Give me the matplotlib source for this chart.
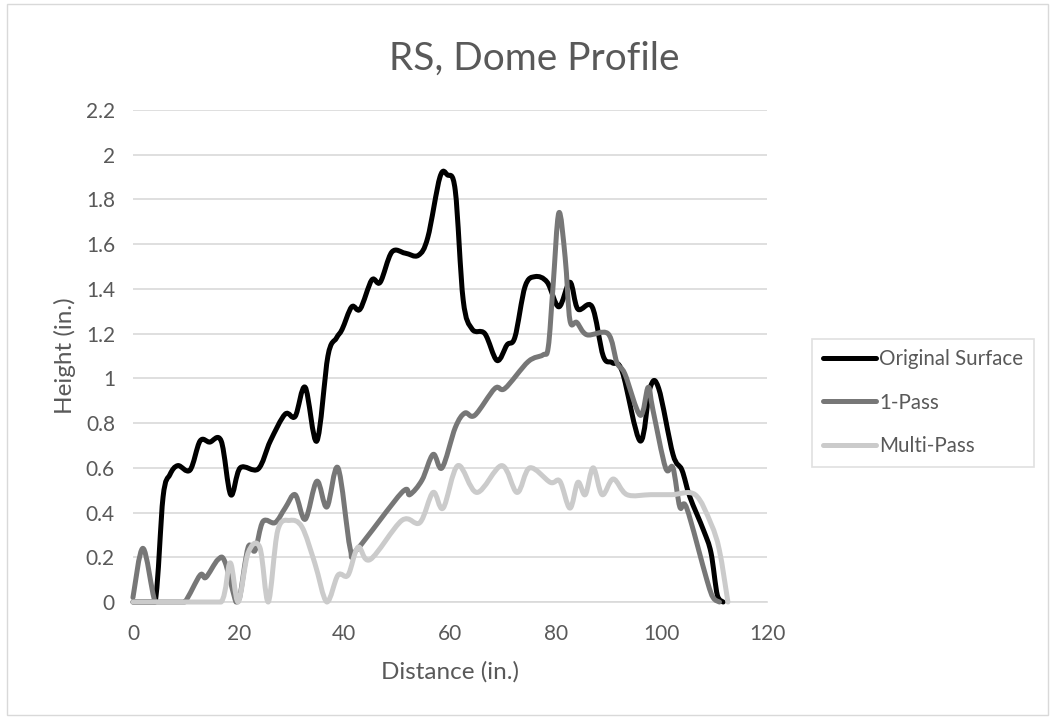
import matplotlib.pyplot as plt
from matplotlib.path import Path
from matplotlib.patches import PathPatch, Rectangle
from matplotlib.lines import Line2D
import numpy as np

# values (distance in., height in.)
orig_x = [0, 2, 4.2, 5.7, 7, 8.5, 10.8, 12.7, 14.5, 16.7, 18.5, 20.3, 23.7, 26, 28.8, 30.7,
          32.6, 34.8, 36.9, 38.5, 39.6, 41.4, 43, 45.2, 46.8, 49, 51.5, 54, 55.8, 58.1,
          59.5, 61, 62.5, 64.2, 66.6, 68.9, 70.8, 72.3, 74.2, 76.1, 78.4, 80.6, 82.7,
          84.2, 86.9, 89, 90.7, 92.6, 96, 97.9, 99.5, 102.2, 103.9, 105.4, 108, 109.4,
          110.6, 111.7]
orig_y = [0, 0, 0, 0.47, 0.57, 0.61, 0.59, 0.72, 0.715, 0.72, 0.48, 0.60, 0.595, 0.72, 0.84,
          0.83, 0.96, 0.72, 1.1, 1.18, 1.22, 1.32, 1.31, 1.44, 1.43, 1.565, 1.56, 1.55, 1.63,
          1.9, 1.91, 1.84, 1.35, 1.22, 1.20, 1.08, 1.15, 1.185, 1.41, 1.455, 1.43, 1.32,
          1.43, 1.31, 1.32, 1.1, 1.07, 1.03, 0.72, 0.96, 0.955, 0.66, 0.59, 0.47, 0.32,
          0.22, 0.03, 0]

one_x = [0, 1.9, 4.2, 6, 8, 9.8, 12.7, 13.8, 16.1, 17.4, 19.5, 20.2, 21.8, 23.1, 24.6, 26.9,
         28.8, 30.7, 32.6, 34.8, 36.7, 38.8, 41.1, 42.4, 50.9, 52.4, 54.7, 56.8, 58.5, 61,
         62.8, 64.7, 68.5, 70.4, 74.8, 77.6, 78.6, 79.5, 80.6, 81.8, 82.7, 84, 85.9, 89.9,
         91.6, 93.1, 96, 97.5, 98.4, 100.8, 102.2, 103.5, 104.8, 108.6, 109.8, 111]
one_y = [0.02, 0.24, 0, 0, 0, 0, 0.12, 0.11, 0.19, 0.18, 0, 0.02, 0.245, 0.23, 0.36, 0.355,
         0.42, 0.48, 0.37, 0.54, 0.425, 0.60, 0.24, 0.235, 0.49, 0.48, 0.545, 0.66, 0.60,
         0.78, 0.845, 0.835, 0.955, 0.955, 1.075, 1.105, 1.14, 1.41, 1.74, 1.54, 1.26, 1.25,
         1.195, 1.20, 1.07, 1.02, 0.835, 0.96, 0.86, 0.60, 0.60, 0.425, 0.42, 0.10, 0.02, 0]

multi_x = [0, 4, 8, 12, 16.7, 18.4, 19.9, 21.8, 24, 25.6, 27.4, 29.7, 32, 34.4, 36.7, 38.8,
           40.7, 42.6, 44.9, 50.9, 54.3, 56.8, 58.7, 61.5, 65.1, 69.8, 72.7, 75.1, 79,
           80.8, 82.7, 84.2, 85.6, 87.1, 88.8, 90.9, 93.5, 98, 102, 106.4, 109.4, 111, 112.6]
multi_y = [0, 0, 0, 0, 0, 0.175, 0, 0.22, 0.245, 0, 0.32, 0.365, 0.335, 0.175, 0, 0.12,
           0.12, 0.245, 0.19, 0.365, 0.355, 0.49, 0.42, 0.61, 0.49, 0.61, 0.49, 0.60, 0.535,
           0.54, 0.42, 0.535, 0.48, 0.60, 0.48, 0.55, 0.48, 0.48, 0.48, 0.48, 0.35, 0.23, 0]

series = [
    ('Original Surface', orig_x, orig_y, '#000000'),
    ('1-Pass', one_x, one_y, '#777777'),
    ('Multi-Pass', multi_x, multi_y, '#cbcbcb'),
]

FONT = 'Lato'
TXT = '#595959'


def smooth_path(xs, ys):
    # excel-like smoothed line: cubic bezier with catmull-rom control points
    # (control points kept at or above 0 so the curve does not dip under the axis)
    p = np.column_stack([xs, ys]).astype(float)
    verts = [p[0]]
    codes = [Path.MOVETO]
    n = len(p)
    for i in range(n - 1):
        p0 = p[i - 1] if i > 0 else p[i]
        p3 = p[i + 2] if i + 2 < n else p[i + 1]
        c1 = p[i] + (p[i + 1] - p0) / 6.0
        c2 = p[i + 1] - (p3 - p[i]) / 6.0
        c1[1] = max(c1[1], 0)
        c2[1] = max(c2[1], 0)
        verts += [c1, c2, p[i + 1]]
        codes += [Path.CURVE4] * 3
    return Path(verts, codes)


fig = plt.figure(figsize=(10.51, 7.19), dpi=100)
ax = fig.add_axes([0.1265, 0.1627, 0.6033, 0.6843])

handles = []
for name, xs, ys, col in series:
    patch = PathPatch(smooth_path(xs, ys), facecolor='none', edgecolor=col, lw=3.6,
                      capstyle='round', joinstyle='round', clip_on=False, zorder=3)
    ax.add_patch(patch)
    handles.append(Line2D([], [], color=col, lw=3.6, solid_capstyle='round'))

ax.set_xlim(0, 120)
ax.set_ylim(0, 2.2)
ax.set_xticks(np.arange(0, 121, 20))
yt = np.round(np.arange(0, 2.21, 0.2), 1)
ax.set_yticks(yt)
ax.set_yticklabels(['0' if v == 0 else ('%g' % v) for v in yt])
ax.grid(axis='y', color='#d9d9d9', lw=1.2)
ax.set_axisbelow(True)
for s in ['top', 'right', 'left']:
    ax.spines[s].set_visible(False)
ax.spines['bottom'].set_color('#d9d9d9')
ax.spines['bottom'].set_linewidth(1.2)
ax.tick_params(length=0, labelsize=15, labelcolor=TXT)
ax.tick_params(axis='x', pad=16)
ax.tick_params(axis='y', pad=13)
for lab in ax.get_xticklabels() + ax.get_yticklabels():
    lab.set_fontfamily(FONT)

ax.set_xlabel('Distance (in.)', fontsize=17.5, color=TXT, family=FONT, labelpad=12)
ax.set_ylabel('Height (in.)', fontsize=17.5, color=TXT, family=FONT, labelpad=7)
fig.text(0.508, 0.918, 'RS, Dome Profile', ha='center', va='center', fontsize=28,
         color=TXT, family=FONT)

leg = fig.legend(handles, [s[0] for s in series], loc='center left',
                 bbox_to_anchor=(0.773, 0.44), frameon=True, fancybox=False,
                 prop={'family': FONT, 'size': 14.8}, labelcolor=TXT,
                 handlelength=2.6, handletextpad=0.15, labelspacing=1.15,
                 borderpad=0.5, borderaxespad=0)
leg.get_frame().set_edgecolor('#d9d9d9')
leg.get_frame().set_linewidth(1.2)

fig.patches.append(Rectangle((0.007, 0.006), 0.99, 0.988, transform=fig.transFigure,
                             fill=False, edgecolor='#d9d9d9', lw=1))

fig.savefig('out.png', dpi=100)
